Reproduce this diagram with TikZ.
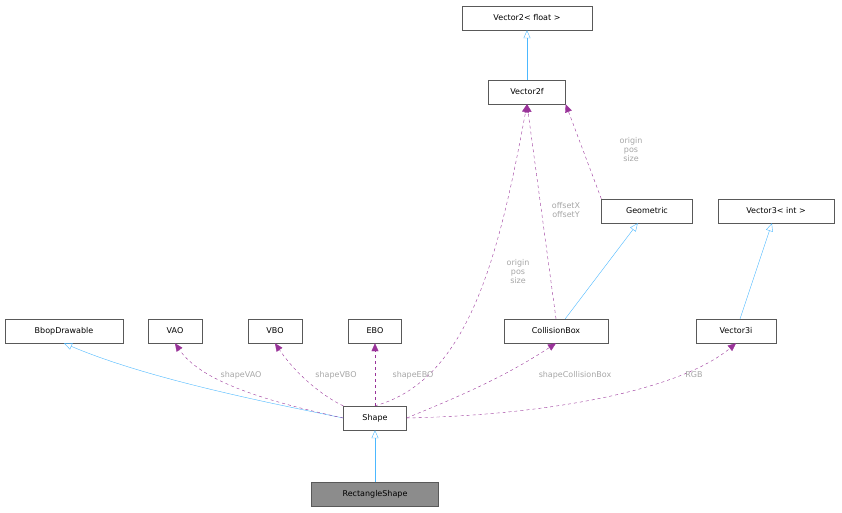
\documentclass[tikz,border=0pt]{standalone}
\usepackage{fontspec}
\setmainfont{DejaVu Sans}
\usetikzlibrary{arrows.meta}
\tikzset{
    x=1pt, y=-1pt,
    cls/.style={draw=black!65, fill=white, minimum height=24pt, inner sep=2pt, font=\fontsize{8}{9}\selectfont}, % class boxes
    inherit/.style={draw=blue!40!cyan!70, -{Triangle[open, length=8pt, width=7pt]}}, % base classes
    uses/.style={draw=violet!80, dashed, -{Triangle[length=8pt, width=7pt]}}, % members
    lbl/.style={text=black!35, font=\fontsize{8}{9}\selectfont, align=center, inner sep=1pt},
}
\begin{document}
\begin{tikzpicture}
\useasboundingbox (0,0) rectangle (842,512);
\node[cls, minimum width=130pt] (v2float) at (527,18) {Vector2< float >};
\node[cls, minimum width=77pt] (v2f) at (527,92) {Vector2f};
\node[cls, minimum width=91pt] (geom) at (647,211) {Geometric};
\node[cls, minimum width=116pt] (v3int) at (776,211) {Vector3< int >};
\node[cls, minimum width=118pt] (bbop) at (64,331) {BbopDrawable};
\node[cls, minimum width=54pt] (vao) at (175,331) {VAO};
\node[cls, minimum width=54pt] (vbo) at (275,331) {VBO};
\node[cls, minimum width=53pt] (ebo) at (375,331) {EBO};
\node[cls, minimum width=104pt] (cbox) at (556,331) {CollisionBox};
\node[cls, minimum width=80pt] (v3i) at (736,331) {Vector3i};
\node[cls, minimum width=63pt] (shape) at (375,418) {Shape};
\node[cls, minimum width=127pt, fill=black!45] (rect) at (375,494) {RectangleShape};

\draw[inherit] (v2f) -- (v2float);
\draw[inherit] (cbox) -- (geom);
\draw[inherit] (v3i) -- (v3int);
\draw[inherit] (rect) -- (shape);
\draw[inherit] (shape.west) .. controls (280,405) and (150,380) .. (bbop.south);
\draw[uses] (geom.north west) -- (v2f.south east);
\draw[uses] (cbox.north) -- (v2f.south);
\draw[uses] (shape.north) .. controls (470,380) and (500,250) .. (v2f.south);
\draw[uses] (shape.west) .. controls (260,400) and (200,380) .. (vao.south);
\draw[uses] (shape.north west) .. controls (330,400) and (300,380) .. (vbo.south);
\draw[uses] (shape.north) -- (ebo.south);
\draw[uses] (shape.east) .. controls (450,400) and (500,380) .. (cbox.south);
\draw[uses] (shape.east) .. controls (550,415) and (680,390) .. (v3i.south);

\node[lbl] (lgeom) at (631,150) {origin\\pos\\size};
\node[lbl] (lcbox) at (566,210) {offsetX\\offsetY};
\node[lbl] (lshape) at (518,272) {origin\\pos\\size};
\node[lbl] (lvao) at (241,375) {shapeVAO};
\node[lbl] (lvbo) at (336,375) {shapeVBO};
\node[lbl] (lebo) at (413,375) {shapeEBO};
\node[lbl] (lcol) at (575,375) {shapeCollisionBox};
\node[lbl] (lrgb) at (694,375) {RGB};
\end{tikzpicture}
\end{document}
